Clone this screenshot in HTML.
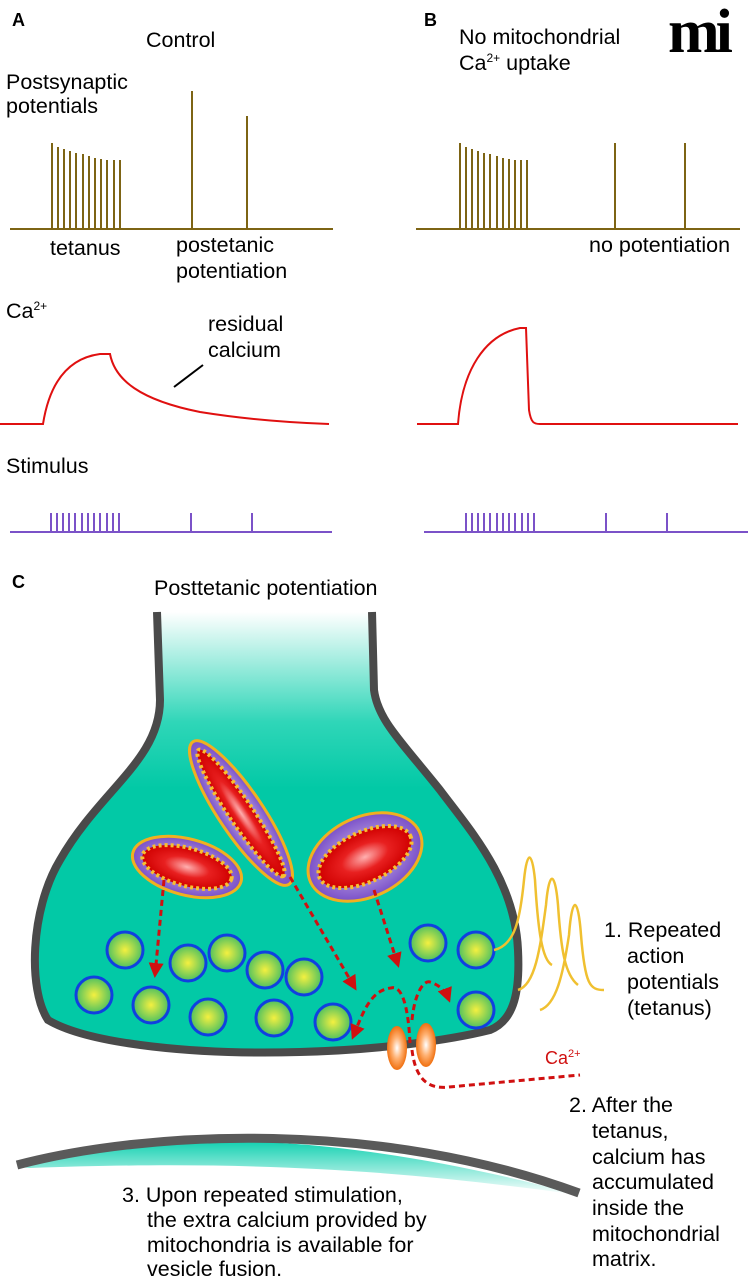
<!DOCTYPE html>
<html><head><meta charset="utf-8"><style>
html,body{margin:0;padding:0;background:#fff;}
svg{display:block;font-family:"Liberation Sans",sans-serif;}
</style></head><body>
<svg width="748" height="1280" viewBox="0 0 748 1280" xmlns="http://www.w3.org/2000/svg">
<defs>
<linearGradient id="term" x1="0" y1="0" x2="0" y2="1">
<stop offset="0" stop-color="#ffffff"/><stop offset="0.25" stop-color="#2fd6b8"/><stop offset="0.4" stop-color="#02c9a6"/><stop offset="1" stop-color="#02c9a6"/></linearGradient>
<linearGradient id="post" x1="0" y1="0" x2="0" y2="1">
<stop offset="0" stop-color="#10d0b0"/><stop offset="1" stop-color="#ffffff"/></linearGradient>
<radialGradient id="ves"><stop offset="0" stop-color="#f4f040"/><stop offset="1" stop-color="#4cc060"/></radialGradient>
<radialGradient id="mito"><stop offset="0" stop-color="#d8c8f0"/><stop offset="1" stop-color="#7a50c8"/></radialGradient>
<radialGradient id="mat"><stop offset="0" stop-color="#ffb0b0"/><stop offset="0.5" stop-color="#e82020"/><stop offset="1" stop-color="#d00000"/></radialGradient>
<radialGradient id="chan"><stop offset="0" stop-color="#ffffff"/><stop offset="0.5" stop-color="#ffb070"/><stop offset="1" stop-color="#f07010"/></radialGradient>
<marker id="arr" viewBox="0 0 10 10" refX="8" refY="5" markerWidth="5" markerHeight="5" orient="auto"><path d="M0,0 L10,5 L0,10 z" fill="#d01010"/></marker>
</defs>
<g font-size="21.5">
<!-- Panel A -->
<text x="12" y="26" font-size="18" font-weight="bold">A</text>
<text x="146" y="47">Control</text>
<text x="6" y="89">Postsynaptic</text>
<text x="6" y="113">potentials</text>
<g stroke="#7d6414" stroke-width="2">
<line x1="10" y1="229" x2="333" y2="229"/>
<line x1="52" y1="229" x2="52" y2="143"/><line x1="58" y1="229" x2="58" y2="147"/><line x1="64" y1="229" x2="64" y2="149"/><line x1="70" y1="229" x2="70" y2="151"/><line x1="76" y1="229" x2="76" y2="153"/><line x1="83" y1="229" x2="83" y2="154"/><line x1="89" y1="229" x2="89" y2="156"/><line x1="95" y1="229" x2="95" y2="158"/><line x1="101" y1="229" x2="101" y2="159"/><line x1="107" y1="229" x2="107" y2="160"/><line x1="114" y1="229" x2="114" y2="160"/><line x1="120" y1="229" x2="120" y2="160"/>
<line x1="192" y1="229" x2="192" y2="91"/><line x1="247" y1="229" x2="247" y2="116"/>
</g>
<text x="50" y="255">tetanus</text>
<text x="176" y="252">postetanic</text>
<text x="176" y="278">potentiation</text>

<!-- Panel B -->
<text x="424" y="26" font-size="18" font-weight="bold">B</text>
<text x="459" y="44">No mitochondrial</text>
<text x="459" y="70">Ca<tspan font-size="12" dy="-8">2+</tspan><tspan dy="8"> uptake</tspan></text>
<text x="668" y="52" font-size="62" font-weight="bold" font-family="Liberation Serif,serif" letter-spacing="-4">mi</text>
<g stroke="#7d6414" stroke-width="2">
<line x1="416" y1="229" x2="740" y2="229"/>
<line x1="460" y1="229" x2="460" y2="143"/><line x1="466" y1="229" x2="466" y2="147"/><line x1="472" y1="229" x2="472" y2="149"/><line x1="478" y1="229" x2="478" y2="151"/><line x1="484" y1="229" x2="484" y2="153"/><line x1="490" y1="229" x2="490" y2="154"/><line x1="497" y1="229" x2="497" y2="156"/><line x1="503" y1="229" x2="503" y2="158"/><line x1="509" y1="229" x2="509" y2="159"/><line x1="515" y1="229" x2="515" y2="160"/><line x1="521" y1="229" x2="521" y2="160"/><line x1="527" y1="229" x2="527" y2="160"/>
<line x1="615" y1="229" x2="615" y2="143"/><line x1="685" y1="229" x2="685" y2="143"/>
</g>
<text x="589" y="252">no potentiation</text>

<!-- Calcium -->
<text x="6" y="318">Ca<tspan font-size="12" dy="-8">2+</tspan></text>
<text x="208" y="331">residual</text>
<text x="208" y="357">calcium</text>
<line x1="174" y1="387" x2="203" y2="365" stroke="#000" stroke-width="2"/>
<g fill="none" stroke="#e01010" stroke-width="2">
<path d="M0,424 L43,424 C50,380 70,358 100,354 L110,354 C115,380 140,400 200,412 C250,420 300,423 329,424"/>
<path d="M417,424 L458,424 C462,370 485,335 520,328 L526,328 L529,410 C531,423 534,424 540,424 L738,424"/>
</g>

<!-- Stimulus -->
<text x="6" y="473">Stimulus</text>
<g stroke="#7b52c8" stroke-width="2">
<line x1="10" y1="532" x2="332" y2="532"/>
<line x1="51" y1="532" x2="51" y2="513"/><line x1="57" y1="532" x2="57" y2="513"/><line x1="63" y1="532" x2="63" y2="513"/><line x1="69" y1="532" x2="69" y2="513"/><line x1="75" y1="532" x2="75" y2="513"/><line x1="82" y1="532" x2="82" y2="513"/><line x1="88" y1="532" x2="88" y2="513"/><line x1="94" y1="532" x2="94" y2="513"/><line x1="100" y1="532" x2="100" y2="513"/><line x1="107" y1="532" x2="107" y2="513"/><line x1="113" y1="532" x2="113" y2="513"/><line x1="119" y1="532" x2="119" y2="513"/>
<line x1="191" y1="532" x2="191" y2="513"/><line x1="252" y1="532" x2="252" y2="513"/>
<line x1="424" y1="532" x2="748" y2="532"/>
<line x1="466" y1="532" x2="466" y2="513"/><line x1="472" y1="532" x2="472" y2="513"/><line x1="478" y1="532" x2="478" y2="513"/><line x1="484" y1="532" x2="484" y2="513"/><line x1="490" y1="532" x2="490" y2="513"/><line x1="497" y1="532" x2="497" y2="513"/><line x1="503" y1="532" x2="503" y2="513"/><line x1="509" y1="532" x2="509" y2="513"/><line x1="515" y1="532" x2="515" y2="513"/><line x1="522" y1="532" x2="522" y2="513"/><line x1="528" y1="532" x2="528" y2="513"/><line x1="534" y1="532" x2="534" y2="513"/>
<line x1="606" y1="532" x2="606" y2="513"/><line x1="667" y1="532" x2="667" y2="513"/>
</g>

<!-- Panel C -->
<text x="12" y="588" font-size="18" font-weight="bold">C</text>
<text x="154" y="595">Posttetanic potentiation</text>

<path d="M157,612 L160,700 C160,760 100,790 60,860 C30,910 28,990 48,1020 C90,1045 200,1055 300,1052 C380,1050 450,1040 490,1030 C515,1020 520,990 518,950 C515,880 470,830 440,790 C400,740 378,720 374,690 L372,612 Z" fill="url(#term)"/>
<path d="M157,612 L160,700 C160,760 100,790 60,860 C30,910 28,990 48,1020 C90,1045 200,1055 300,1052 C380,1050 450,1040 490,1030 C515,1020 520,990 518,950 C515,880 470,830 440,790 C400,740 378,720 374,690 L372,612" fill="none" stroke="#4a4a4a" stroke-width="8"/>

<g transform="translate(187,867) rotate(15)">
<ellipse rx="56" ry="28" fill="url(#mito)" stroke="#f0b020" stroke-width="3"/>
<ellipse rx="46" ry="19" fill="url(#mat)" stroke="#f8c030" stroke-width="4" stroke-dasharray="3 3"/>
</g>
<g transform="translate(241,813) rotate(56)">
<ellipse rx="86" ry="22" fill="url(#mito)" stroke="#f0b020" stroke-width="3"/>
<ellipse rx="76" ry="12" fill="url(#mat)" stroke="#f8c030" stroke-width="4" stroke-dasharray="3 3"/>
</g>
<g transform="translate(365,857) rotate(-25)">
<ellipse rx="60" ry="40" fill="url(#mito)" stroke="#f0b020" stroke-width="3"/>
<ellipse rx="50" ry="25" fill="url(#mat)" stroke="#f8c030" stroke-width="4" stroke-dasharray="3 3"/>
</g>

<g fill="url(#ves)" stroke="#1040e0" stroke-width="3">
<circle cx="125" cy="950" r="18"/><circle cx="188" cy="963" r="18"/><circle cx="227" cy="953" r="18"/><circle cx="265" cy="970" r="18"/><circle cx="304" cy="977" r="18"/>
<circle cx="94" cy="995" r="18"/><circle cx="151" cy="1005" r="18"/><circle cx="208" cy="1017" r="18"/><circle cx="274" cy="1018" r="18"/><circle cx="333" cy="1022" r="18"/>
<circle cx="428" cy="943" r="18"/><circle cx="476" cy="950" r="18"/><circle cx="476" cy="1010" r="18"/>
</g>

<g fill="none" stroke="#d01010" stroke-width="3" stroke-dasharray="6 4" marker-end="url(#arr)">
<path d="M164,880 L155,975"/>
<path d="M290,877 L355,988"/>
<path d="M374,890 L398,965"/>
<path d="M410,1043 C408,1000 400,985 391,988 C370,990 362,1015 353,1037"/>
<path d="M412,1020 C415,990 425,980 430,982 C440,985 446,992 449,1000"/>
</g>
<path d="M412,1050 C415,1075 425,1090 449,1087 L580,1075" fill="none" stroke="#d01010" stroke-width="3" stroke-dasharray="6 4"/>
<text x="545" y="1064" font-size="18" fill="#d01010">Ca<tspan font-size="11" dy="-7">2+</tspan></text>

<ellipse cx="397" cy="1048" rx="10" ry="22" fill="url(#chan)"/>
<ellipse cx="426" cy="1045" rx="10" ry="22" fill="url(#chan)"/>

<g fill="none" stroke="#f0c030" stroke-width="2.5">
<path d="M494,950 C515,945 520,920 524,880 C527,850 532,850 535,880 C538,930 542,960 552,965"/>
<path d="M518,990 C535,985 540,950 546,905 C549,870 555,870 558,905 C561,950 565,975 578,985"/>
<path d="M540,1010 C556,1005 563,975 569,935 C572,895 578,895 581,935 C585,985 590,990 604,990"/>
</g>
<text x="604" y="937">1. Repeated</text>
<text x="627" y="963">action</text>
<text x="627" y="989">potentials</text>
<text x="627" y="1015">(tetanus)</text>

<path d="M17,1167 C120,1135 300,1120 579,1195 C400,1170 250,1160 30,1168 Z" fill="url(#post)"/>
<path d="M17,1165 C150,1130 380,1120 579,1193" fill="none" stroke="#5a5a5a" stroke-width="9"/>

<text x="569" y="1112">2. After the</text>
<text x="592" y="1138">tetanus,</text>
<text x="592" y="1164">calcium has</text>
<text x="592" y="1189">accumulated</text>
<text x="592" y="1215">inside the</text>
<text x="592" y="1241">mitochondrial</text>
<text x="592" y="1266">matrix.</text>

<text x="122" y="1202">3. Upon repeated stimulation,</text>
<text x="147" y="1227">the extra calcium provided by</text>
<text x="147" y="1252">mitochondria is available for</text>
<text x="147" y="1276">vesicle fusion.</text>
</g>
</svg>
</body></html>
